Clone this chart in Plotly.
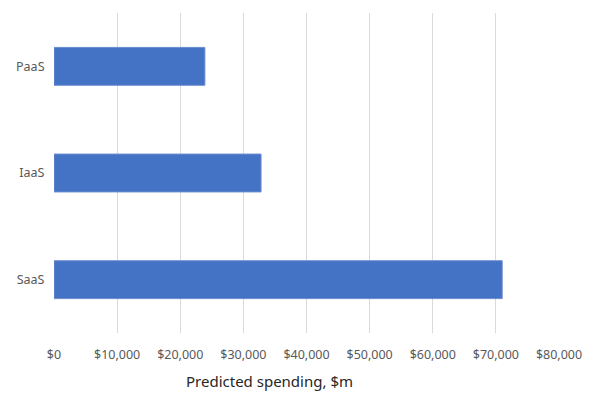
import plotly.graph_objects as go

categories = ["SaaS", "IaaS", "PaaS"]
spending = [71000, 32800, 23900]
tick_values = [0, 10000, 20000, 30000, 40000, 50000, 60000, 70000, 80000]
tick_labels = ["$0", "$10,000", "$20,000", "$30,000", "$40,000", "$50,000",
               "$60,000", "$70,000", "$80,000"]
axis_title = "Predicted spending, $m"

fig = go.Figure(go.Bar(
    x=spending, y=categories, orientation="h",
    marker=dict(color="#4472C4", line=dict(color="#6A8CD0", width=1)),
))

W, H = 590, 394
ml, mr, mt, mb = 54, 31, 13, 61

fig.update_layout(
    width=W, height=H,
    margin=dict(l=ml, r=mr, t=mt, b=mb, pad=0, autoexpand=False),
    plot_bgcolor="white", paper_bgcolor="white",
    bargap=0.645,
    showlegend=False,
    font=dict(family="Noto Sans", size=12.5, color="#595959"),
    xaxis=dict(
        range=[0, 80000], tickvals=tick_values, ticktext=tick_labels,
        showgrid=True, gridcolor="#D9D9D9", gridwidth=1,
        zeroline=False, showline=False, automargin=False,
        ticks="outside", ticklen=10, tickcolor="rgba(0,0,0,0)",
        tickfont=dict(size=12.5, color="#595959"),
        fixedrange=True,
    ),
    yaxis=dict(
        categoryorder="array", categoryarray=categories,
        showgrid=False, zeroline=False, showline=False, automargin=False,
        ticks="outside", ticklen=6, tickcolor="rgba(0,0,0,0)",
        tickfont=dict(size=12.5, color="#595959"),
        fixedrange=True,
    ),
)

plot_w = W - ml - mr
plot_h = H - mt - mb
fig.add_annotation(
    text=axis_title, xref="paper", yref="paper",
    x=(269 - ml) / plot_w, y=(H - mb - 381) / plot_h,
    xanchor="center", yanchor="middle", showarrow=False,
    font=dict(family="Noto Sans", size=15, color="#262626"),
)

fig.write_html(
    "out.html",
    config={"displayModeBar": False},
    post_script="document.body.style.margin='0';document.body.style.overflow='hidden';",
)
